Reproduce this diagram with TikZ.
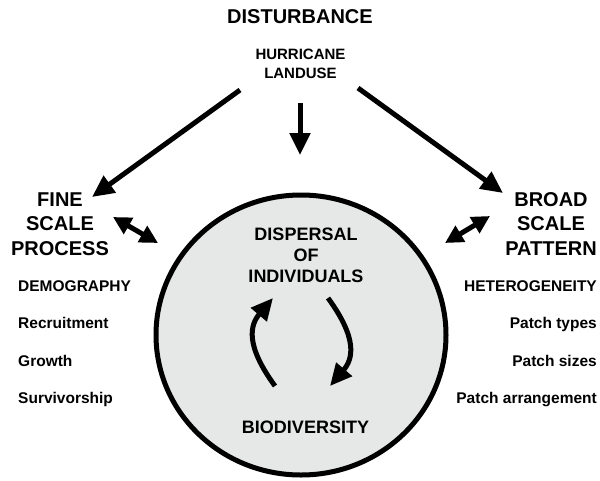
\documentclass[tikz,border=0pt]{standalone}
\usepackage{fontspec}
\setmainfont{Liberation Sans}
\usepackage{xcolor}
\usepackage{tikz}
\usetikzlibrary{positioning, arrows.meta, shapes.geometric}

\definecolor{hubgray}{HTML}{E6E7E7}

\begin{document}
\begin{tikzpicture}[
    x=1pt, y=-1pt,
    head/.style={font=\bfseries\fontsize{20}{24.5}\selectfont, align=center, inner sep=0pt},
    core/.style={font=\bfseries\fontsize{18}{21}\selectfont, align=center, inner sep=0pt},
    item/.style={font=\bfseries\fontsize{15.5}{19}\selectfont, inner sep=0pt},
    fat/.style={line width=5pt, -{Triangle[length=22pt, width=20pt]}},
    twin/.style={line width=5pt, {Triangle[length=18pt, width=18pt]}-{Triangle[length=18pt, width=18pt]}}
]
\useasboundingbox (0,0) rectangle (600,480);

% disturbance at the top
\node[head, anchor=base] (dist) at (300,23) {DISTURBANCE};
\node[item, font=\bfseries\fontsize{15}{19}\selectfont, align=center, anchor=base] (hazard) at (300.5,78) {HURRICANE\\LANDUSE};

% the two scales
\node[head, anchor=base] (fine) at (60,255) {FINE\\SCALE\\PROCESS};
\node[head, anchor=base] (broad) at (551,255) {BROAD\\SCALE\\PATTERN};

\node[item, anchor=base west] (demog) at (18,291) {DEMOGRAPHY};
\node[item, anchor=base west] (recruit) at (18,328) {Recruitment};
\node[item, anchor=base west] (growth) at (18,366) {Growth};
\node[item, anchor=base west] (surviv) at (18,403) {Survivorship};

\node[item, anchor=base east] (hetero) at (597,291) {HETEROGENEITY};
\node[item, anchor=base east] (ptypes) at (597,328) {Patch types};
\node[item, anchor=base east] (psizes) at (597,366) {Patch sizes};
\node[item, anchor=base east] (parrange) at (597,403) {Patch arrangement};

% central circle
\node[ellipse, draw, line width=5pt, fill=hubgray, inner sep=0pt,
      minimum width=290pt, minimum height=280pt] (hub) at (301,335) {};
\node[core, anchor=base] (disp) at (306,282) {DISPERSAL\\OF\\INDIVIDUALS};
\node[core, anchor=base] (biodiv) at (305.5,433) {BIODIVERSITY};

% arrow ends
\coordinate (hzL) at (240,90);
\coordinate (hzR) at (358,88);
\coordinate (hzD) at (300,103);
\coordinate (fineIn) at (92,197);
\coordinate (broadIn) at (503,193);
\coordinate (hubTop) at (300,155);
\coordinate (fineOut) at (113,217);
\coordinate (hubL) at (158,243);
\coordinate (broadOut) at (490,216);
\coordinate (hubR) at (445,243);
\coordinate (loopA) at (275,386);
\coordinate (loopB) at (273,298);
\coordinate (loopC) at (328,298);
\coordinate (loopD) at (330,386);

\draw[fat] (hzL) -- (fineIn);
\draw[fat] (hzR) -- (broadIn);
\draw[fat] (hzD) -- (hubTop);
\draw[twin] (fineOut) -- (hubL);
\draw[twin] (hubR) -- (broadOut);

\draw[fat] (loopA) .. controls (245,345) and (250,325) .. (loopB);
\draw[fat] (loopC) .. controls (358,339) and (353,359) .. (loopD);

\end{tikzpicture}
\end{document}
